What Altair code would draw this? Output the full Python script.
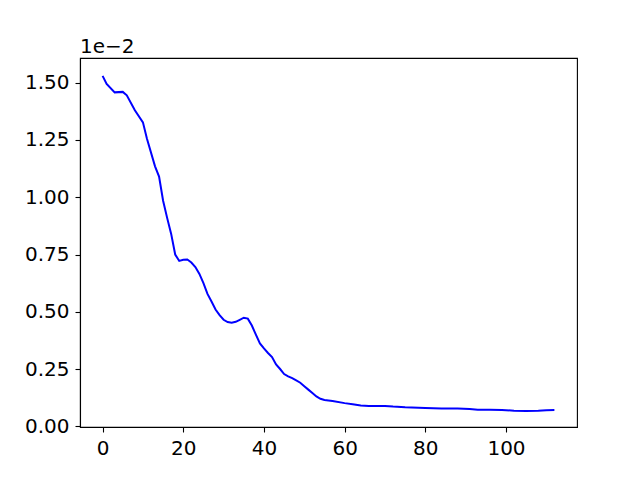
import altair as alt
import pandas as pd

# values in units of 1e-2
epoch = [0, 1, 3, 5, 6, 8, 10, 11, 13, 14, 15, 16, 17, 18, 19, 20, 21, 22, 23, 24,
         25, 26, 27, 28, 29, 30, 31, 32, 33, 34, 35, 36, 37, 38, 39, 40, 41, 42, 43, 44,
         45, 46, 47, 48, 49, 50, 51, 52, 53, 54, 55, 57, 60, 62, 64, 66, 68, 70, 72, 75,
         80, 84, 88, 91, 93, 96, 99, 102, 105, 108, 110, 112]
loss = [1.53, 1.495, 1.458, 1.46, 1.445, 1.38, 1.327, 1.255, 1.135, 1.09, 0.985, 0.91,
        0.84, 0.75, 0.722, 0.727, 0.728, 0.715, 0.695, 0.665, 0.625, 0.578, 0.545, 0.51,
        0.485, 0.465, 0.455, 0.452, 0.456, 0.465, 0.474, 0.47, 0.44, 0.40, 0.362, 0.34,
        0.32, 0.302, 0.27, 0.25, 0.228, 0.218, 0.21, 0.2, 0.19, 0.175, 0.16, 0.145, 0.13,
        0.12, 0.115, 0.11, 0.101, 0.096, 0.091, 0.088, 0.089, 0.089, 0.086, 0.083, 0.08,
        0.078, 0.078, 0.075, 0.072, 0.072, 0.071, 0.068, 0.067, 0.068, 0.070, 0.071]
x_ticks = [0, 20, 40, 60, 80, 100]
y_ticks = [0.0, 0.25, 0.5, 0.75, 1.0, 1.25, 1.5]
offset_label = "1e\u22122"

df = pd.DataFrame({"epoch": epoch, "loss": loss})

FONT = "DejaVu Sans"

line = alt.Chart(df).mark_line(color="#0000ff", strokeWidth=2).encode(
    x=alt.X("epoch:Q",
            scale=alt.Scale(domain=[-5.6, 117.6], nice=False, zero=False),
            axis=alt.Axis(values=x_ticks, format="d", title=None, grid=False)),
    y=alt.Y("loss:Q",
            scale=alt.Scale(domain=[-0.0032, 1.608], nice=False, zero=False),
            axis=alt.Axis(values=y_ticks, format=".2f", title=None, grid=False)),
)

label = alt.Chart(alt.Data(values=[{"t": offset_label}])).mark_text(
    align="left", baseline="alphabetic", font=FONT, fontSize=20, color="black"
).encode(text="t:N", x=alt.value(0), y=alt.value(-5))

chart = alt.layer(line, label).properties(
    width=497, height=369,
    autosize=alt.AutoSizeParams(type="none"),
    padding={"left": 72, "top": 50, "right": 50, "bottom": 45},
).configure_view(
    stroke="black", strokeWidth=1.1
).configure_axis(
    labelFont=FONT, labelFontSize=20, labelColor="black",
    tickColor="black", tickSize=5, tickWidth=1.1,
    domainColor="black", domainWidth=1.1, labelPadding=6,
)

chart.save("out.html", embed_options={"renderer": "svg", "actions": False})
